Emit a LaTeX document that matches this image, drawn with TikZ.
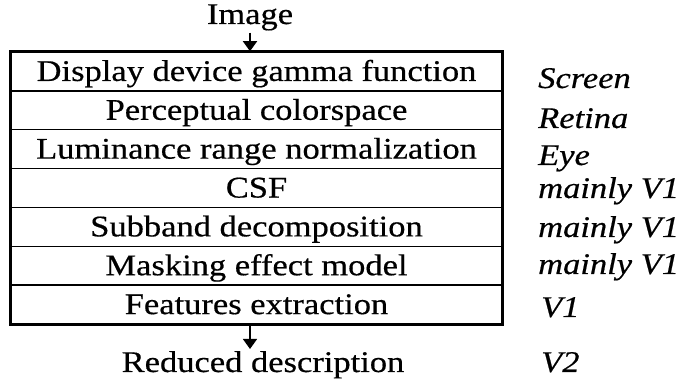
\documentclass[tikz,border=0pt]{standalone}
\usepackage{fontspec}
\setmainfont{Liberation Serif}[FakeStretch=1.15, FakeBold=0.5]
\usetikzlibrary{arrows.meta}
\begin{document}
\begin{tikzpicture}[x=1pt,y=-1pt,
  txt/.style={font=\fontsize{30}{36}\selectfont, inner sep=2pt},
  stage/.style={txt, draw, line width=1.5pt, minimum width=491pt, minimum height=38.86pt,
    inner sep=0pt, text height=22pt, text depth=3pt},
  area/.style={txt, font=\fontsize{30}{36}\selectfont\itshape, anchor=base west, inner sep=0pt},
  flow/.style={line width=1.5pt, -{Triangle[width=14pt,length=10pt]}}
]
\useasboundingbox (0,0) rectangle (678,387);

% processing stages, stacked top to bottom
\node[stage] (s1) at (256.5, 71.43)  {Display device gamma function};
\node[stage] (s2) at (256.5, 110.29) {Perceptual colorspace};
\node[stage] (s3) at (256.5, 149.15) {Luminance range normalization};
\node[stage] (s4) at (256.5, 188.01) {CSF};
\node[stage] (s5) at (256.5, 226.87) {Subband decomposition};
\node[stage] (s6) at (256.5, 265.73) {Masking effect model};
\node[stage] (s7) at (256.5, 304.59) {Features extraction};
\draw[line width=2.2pt] (s1.north west) rectangle (s7.south east);

% input and output
\node[txt, anchor=base] (img) at (250, 24) {Image};
\node[txt, anchor=base] (red) at (263, 372) {Reduced description};
\draw[flow] (img.south) -- (img.south |- s1.north);
\draw[flow] (s7.south -| img) -- (red.north -| img);

% corresponding part of the visual system
\node[area] (a1) at (538, 88)  {Screen};
\node[area] (a2) at (538, 128) {Retina};
\node[area] (a3) at (538, 165) {Eye};
\node[area] (a4) at (538, 198) {mainly V1};
\node[area] (a5) at (538, 237) {mainly V1};
\node[area] (a6) at (538, 274) {mainly V1};
\node[area] (a7) at (541, 317) {V1};
\node[area] (a8) at (541, 372) {V2};
\end{tikzpicture}
\end{document}
